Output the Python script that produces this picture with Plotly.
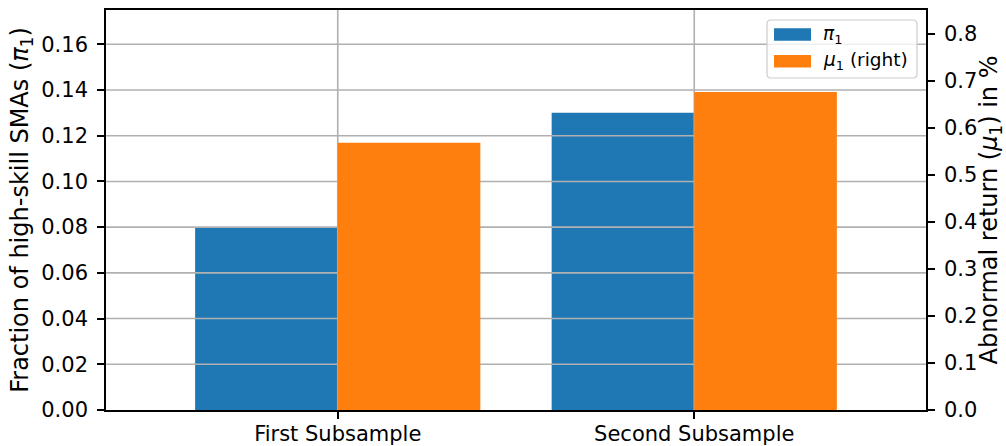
import plotly.graph_objects as go

# Data
categories = ["First Subsample", "Second Subsample"]
pi1 = [0.08, 0.13]          # fraction of high-skill SMAs (left axis)
mu1 = [0.568, 0.676]        # abnormal return in % (right axis)
pi_name = "<i>π</i><sub>1</sub>"
mu_name = "<i>μ</i><sub>1</sub> (right)"
left_ticks = [0.02, 0.04, 0.06, 0.08, 0.10, 0.12, 0.14, 0.16]

BLUE = "#1f77b4"
ORANGE = "#ff7f0e"
GRID = "#b0b0b0"
FONT = "DejaVu Sans"
FS = 21         # tick labels
FT = 24         # axis titles

W, H = 1006, 446
ML, MR, MT, MB = 106, 80, 10, 36
PW, PH = W - ML - MR, H - MT - MB

XR = [-0.65, 1.65]
YR = [0, 0.175]
Y2R = [0, 0.85]

xs = list(range(len(categories)))

fig = go.Figure()

# first series on the primary axis
fig.add_trace(go.Bar(x=xs, y=pi1, width=0.4, offset=-0.4, yaxis="y",
                     marker=dict(color=BLUE, line=dict(width=0)),
                     name=pi_name, showlegend=False))

# grid drawn over the primary-axis bars, under the secondary ones
gx, gy = [], []
for t in left_ticks:
    gx += [XR[0], XR[1], None]
    gy += [t, t, None]
for x in xs:
    gx += [x, x, None]
    gy += [YR[0], YR[1], None]
fig.add_trace(go.Scatter(x=gx, y=gy, mode="lines", yaxis="y",
                         line=dict(color=GRID, width=1.6),
                         hoverinfo="skip", showlegend=False))

# second series on the secondary axis
fig.add_trace(go.Bar(x=xs, y=mu1, width=0.4, offset=0.0, yaxis="y2",
                     marker=dict(color=ORANGE, line=dict(width=0)),
                     name=mu_name, showlegend=False))


def px(v):
    return (v - ML) / PW


def py(v):
    return (MT + PH - v) / PH


# legend box with rounded corners
x0, x1, y0, y1 = px(767), px(917), py(20), py(78)
rx, ry = 4 / PW, 4 / PH
path = (f"M {x0+rx} {y0} L {x1-rx} {y0} Q {x1} {y0} {x1} {y0-ry} "
        f"L {x1} {y1+ry} Q {x1} {y1} {x1-rx} {y1} L {x0+rx} {y1} "
        f"Q {x0} {y1} {x0} {y1+ry} L {x0} {y0-ry} Q {x0} {y0} {x0+rx} {y0} Z")
shapes = [dict(type="path", path=path, xref="paper", yref="paper",
               fillcolor="rgba(255,255,255,0.8)",
               line=dict(color="rgba(204,204,204,1)", width=1.2), layer="above")]
annotations = []
for (name, col, top) in [(pi_name, BLUE, 28.3), (mu_name, ORANGE, 55)]:
    shapes.append(dict(type="rect", xref="paper", yref="paper",
                       x0=px(774), x1=px(811), y0=py(top), y1=py(top + 12.4),
                       fillcolor=col, line=dict(width=0), layer="above"))
    annotations.append(dict(text=name, xref="paper", yref="paper",
                            x=px(821), y=py(top + 6.2), xanchor="left",
                            yanchor="middle", showarrow=False,
                            font=dict(family=FONT, size=18.5, color="black")))

axis_common = dict(showline=True, linecolor="black", linewidth=1.6,
                   ticks="outside", ticklen=7, tickwidth=1.6, tickcolor="black",
                   zeroline=False, showgrid=False, automargin=False,
                   tickfont=dict(family=FONT, size=FS, color="black"))

fig.update_layout(
    width=W, height=H,
    margin=dict(l=ML, r=MR, t=MT, b=MB, pad=0),
    paper_bgcolor="white", plot_bgcolor="white",
    barmode="overlay",
    font=dict(family=FONT, size=FS, color="black"),
    xaxis=dict(range=XR, tickvals=xs, ticktext=categories, mirror=True,
               ticklabelstandoff=-3, **axis_common),
    yaxis=dict(range=YR, dtick=0.02, tick0=0, tickformat=".2f", mirror=True,
               ticklabelstandoff=5,
               title=dict(text="Fraction of high-skill SMAs (<i>π</i><sub>1</sub>)",
                          font=dict(family=FONT, size=FT), standoff=6),
               **axis_common),
    yaxis2=dict(range=Y2R, dtick=0.1, tick0=0, tickformat=".1f",
                overlaying="y", side="right", ticklabelstandoff=5,
                title=dict(text="Abnormal return (<i>μ</i><sub>1</sub>) in %",
                           font=dict(family=FONT, size=FT), standoff=2),
                **axis_common),
    shapes=shapes, annotations=annotations,
)

fig.write_html("out.html")
